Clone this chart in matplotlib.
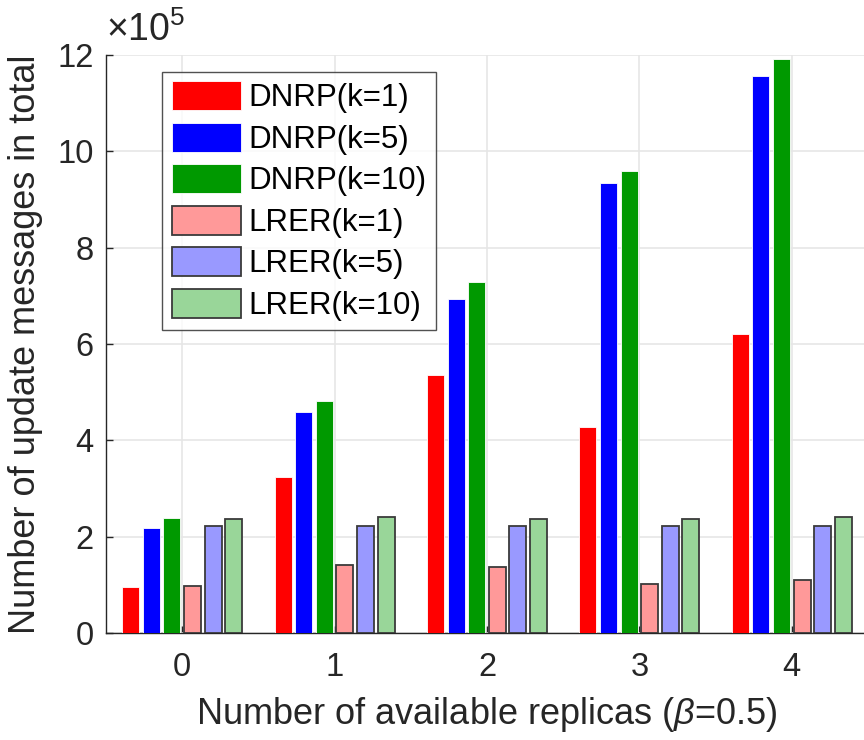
import numpy as np
import matplotlib
matplotlib.use("Agg")
import matplotlib.pyplot as plt

plt.rcParams['font.family'] = ['Liberation Sans', 'DejaVu Sans']
plt.rcParams['mathtext.fontset'] = 'custom'
plt.rcParams['mathtext.rm'] = 'Liberation Sans'
plt.rcParams['mathtext.it'] = 'Liberation Sans:italic'

replicas = [0, 1, 2, 3, 4]
series_names = ['DNRP(k=1)', 'DNRP(k=5)', 'DNRP(k=10)',
                'LRER(k=1)', 'LRER(k=5)', 'LRER(k=10)']
# values in units of 1e5
dnrp_k1 = [0.95, 3.23, 5.35, 4.27, 6.20]
dnrp_k5 = [2.19, 4.58, 6.94, 9.35, 11.57]
dnrp_k10 = [2.38, 4.81, 7.29, 9.59, 11.91]
lrer_k1 = [0.98, 1.42, 1.36, 1.01, 1.11]
lrer_k5 = [2.23, 2.23, 2.23, 2.23, 2.23]
lrer_k10 = [2.37, 2.40, 2.37, 2.37, 2.40]

series = [dnrp_k1, dnrp_k5, dnrp_k10, lrer_k1, lrer_k5, lrer_k10]
colors = ['#ff0000', '#0000ff', '#009900', '#ff9999', '#9999ff', '#99d699']

fig = plt.figure(figsize=(8.64, 7.4), dpi=100)
ax = fig.add_axes([106 / 864, 107 / 740, 762 / 864, 578 / 740])

x = np.arange(len(replicas))
step = 0.135
width = 0.112
for i, (vals, c) in enumerate(zip(series, colors)):
    pos = x + (i - 2.5) * step
    if i < 3:
        ax.bar(pos, vals, width, color=c, edgecolor='white', linewidth=0.6,
               label=series_names[i], zorder=3)
    else:
        ax.bar(pos, vals, width, color=c, edgecolor='#3a3a3a', linewidth=1.3,
               label=series_names[i], zorder=3)

ax.set_xlim(-0.5, 4.5)
ax.set_ylim(0, 12)
ax.set_xticks(x)
ax.set_xticklabels([str(r) for r in replicas])
ax.set_yticks(np.arange(0, 13, 2))
ax.tick_params(axis='both', direction='in', length=5, width=1,
               colors='#262626', labelsize=23.5, pad=9)
ax.tick_params(axis='x', pad=14)
ax.grid(True, color='#e6e6e6', linewidth=1.2, zorder=0)
ax.set_axisbelow(True)
for s in ['top', 'right']:
    ax.spines[s].set_visible(False)
for s in ['left', 'bottom']:
    ax.spines[s].set_color('#262626')
    ax.spines[s].set_linewidth(1)

ax.set_ylabel('Number of update messages in total', fontsize=26,
              color='#262626', labelpad=10)
ax.set_xlabel(r'Number of available replicas ($\it{\beta}$=0.5)', fontsize=26,
              color='#262626', labelpad=8)
ax.text(0.0, 1.01, r'$\times10^5$', transform=ax.transAxes, fontsize=27,
        color='#262626', ha='left', va='bottom')

leg = ax.legend(loc='upper left', bbox_to_anchor=(0.074, 0.971), fontsize=22.5,
                frameon=True, fancybox=False, edgecolor='#262626',
                handlelength=2.2, handleheight=1.05, handletextpad=0.25,
                labelspacing=0.3, borderpad=0.3, borderaxespad=0)
leg.get_frame().set_linewidth(1)
leg.set_zorder(5)

fig.savefig('out.png', dpi=100)
